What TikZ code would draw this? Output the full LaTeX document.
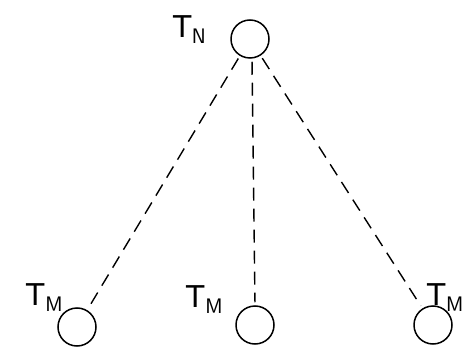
\documentclass[tikz,border=0pt]{standalone}
\usepackage{fontspec}
\setmainfont{DejaVu Sans}
\begin{document}
\begin{tikzpicture}[x=1pt,y=-1pt,
  tnode/.style={circle,draw,line width=1.5pt,minimum size=38pt,inner sep=0pt},
  link/.style={line width=1.4pt,dash pattern=on 13pt off 8pt,shorten <=3pt,shorten >=3pt},
  lab/.style={font=\fontsize{30}{30}\selectfont,inner sep=0pt}]
\useasboundingbox (0,0) rectangle (465,347);
\node[tnode] (n) at (250,39) {};
\node[tnode] (m1) at (77,327) {};
\node[tnode] (m2) at (255,325) {};
\node[tnode] (m3) at (433,325) {};
\node[lab] (ln) at (190,30) {T$_{\mathsf{N}}$};
\node[lab] (l1) at (45,298) {T$_{\mathsf{M}}$};
\node[lab] (l2) at (205,300) {T$_{\mathsf{M}}$};
\node[lab,anchor=east] (l3) at (464,298) {T$_{\mathsf{M}}$};
\draw[link] (n) -- (m1);
\draw[link] (n.south) ++(2,0) coordinate (ns) -- (m2.north);
\draw[link] (n) -- (m3);
\end{tikzpicture}
\end{document}
